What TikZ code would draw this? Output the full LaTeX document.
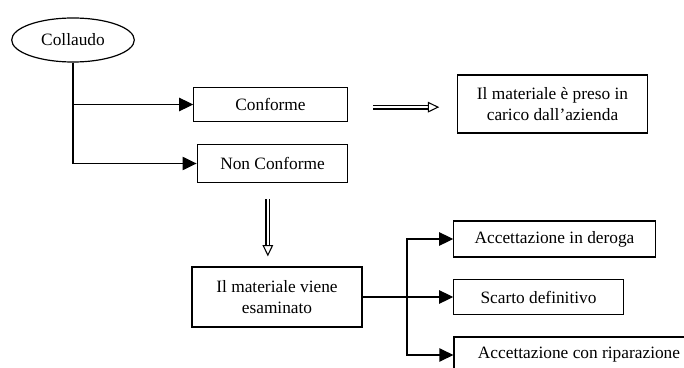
\documentclass[tikz,border=0pt]{standalone}
\usepackage{fontspec}
\setmainfont{Liberation Serif}
\usepackage{tikz}
\usetikzlibrary{arrows.meta, positioning, shapes.geometric}
\tikzset{
  box/.style={rectangle, draw, line width=0.9pt, align=center, inner sep=2pt, font=\fontsize{13}{16}\selectfont},
  oval/.style={ellipse, draw, line width=0.9pt, inner sep=1pt, font=\fontsize{13}{16}\selectfont},
  line/.style={line width=0.9pt, -{Triangle[length=10.5pt, width=10pt]}},
  hollow/.style={double, double distance=2pt, line width=0.8pt, -{Triangle[open, length=8.5pt, width=8pt]}}
}

\begin{document}
\begin{tikzpicture}[x=0.75pt, y=-0.75pt]
    \useasboundingbox (0,0) rectangle (684,367);
    \node[oval, minimum width=92pt, minimum height=33pt] (coll) at (73,40) {Collaudo};
    \node[box, minimum width=115pt, minimum height=26pt] (conf) at (270.5,104.5) {Conforme};
    \node[box, minimum width=113pt, minimum height=28pt] (nconf) at (272.5,163.5) {Non Conforme};
    \node[box, minimum width=142pt, minimum height=43.5pt] (carico) at (552.5,104) {Il materiale è preso in\\carico dall’azienda};
    \node[box, minimum width=127.5pt, minimum height=45pt] (esam) at (277,297) {Il materiale viene\\esaminato};
    \node[box, minimum width=151pt, minimum height=27pt] (deroga) at (554.5,239) {Accettazione in deroga};
    \node[box, minimum width=127pt, minimum height=26pt] (scarto) at (538.5,297) {Scarto definitivo};
    \node[box, minimum width=187.5pt, minimum height=27pt] (ripar) at (579,355) {Accettazione con riparazione};
    \coordinate (split) at (407,297);

    \draw[line] (coll.south) |- (conf.west);
    \draw[line] (coll.south) |- (nconf.west);
    \draw[hollow, shorten <=19pt, shorten >=13.5pt] ([yshift=-2pt]conf.east) -- ([yshift=-2pt]conf.east -| carico.west);
    \draw[hollow, shorten <=12pt, shorten >=7.5pt] ([xshift=-3.5pt]nconf.south) -- ([xshift=-3.5pt]nconf.south |- esam.north);
    \draw[line width=0.9pt] (esam.east) -- (split);
    \draw[line] (split) |- (deroga.west);
    \draw[line] (split) -- (scarto.west);
    \draw[line] (split) |- (ripar.west);
  \end{tikzpicture}
\end{document}
